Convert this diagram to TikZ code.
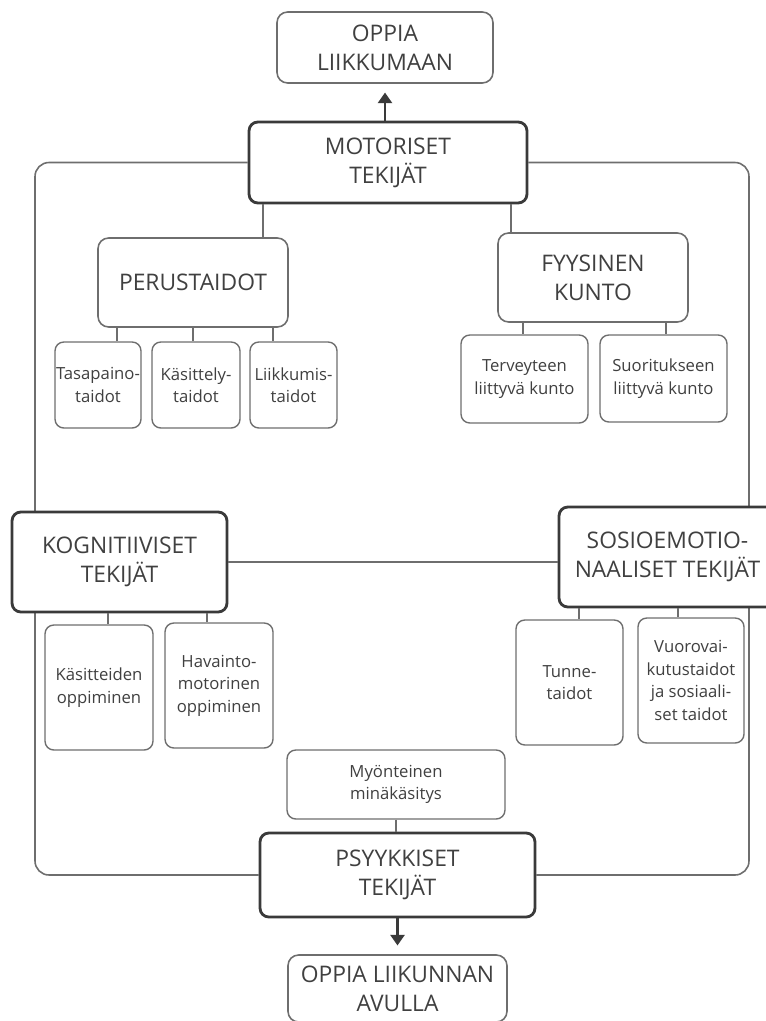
\documentclass[tikz,border=0pt]{standalone}
\usepackage{fontspec}
\setmainfont{Open Sans}
\usetikzlibrary{arrows.meta}
\usetikzlibrary{backgrounds}

\definecolor{ink}{HTML}{404040}
\definecolor{edge}{HTML}{6E6E6E}
\definecolor{heavy}{HTML}{3A3A3A}

\begin{document}
\begin{tikzpicture}[x=0.02cm, y=-0.02cm,
  main/.style = {draw=heavy, line width=1.6pt, rounded corners=5pt, fill=white, text=ink, align=center, inner sep=0pt, font=\fontsize{13}{16.5}\selectfont},
  group/.style = {draw=edge, line width=0.9pt, rounded corners=6pt, fill=white, text=ink, align=center, inner sep=0pt, font=\fontsize{13}{16.5}\selectfont},
  leaf/.style = {draw=edge, line width=0.8pt, rounded corners=5pt, fill=white, text=ink, align=center, inner sep=0pt, font=\fontsize{9.5}{12.8}\selectfont},
  link/.style = {draw=edge, line width=0.9pt},
  goal/.style = {draw=heavy, line width=1.3pt, -{Triangle[width=8pt,length=6pt]}}]
\useasboundingbox (0,0) rectangle (766,1021);

\node[group, minimum width=4.32cm, minimum height=1.42cm] (top) at (385,47.5) {OPPIA\\LIIKKUMAAN};
\node[main, minimum width=5.56cm, minimum height=1.62cm] (mot) at (388,162.5) {MOTORISET\\TEKIJÄT};

\node[group, minimum width=3.8cm, minimum height=1.78cm] (perus) at (193,282.5) {PERUSTAIDOT};
\node[group, minimum width=3.8cm, minimum height=1.78cm] (fyys) at (593,277.5) {FYYSINEN\\KUNTO};

\node[leaf, minimum width=1.72cm, minimum height=1.72cm] (tasa) at (98,385) {Tasapaino-\\taidot};
\node[leaf, minimum width=1.76cm, minimum height=1.72cm] (kasit) at (196,385) {Käsittely-\\taidot};
\node[leaf, minimum width=1.74cm, minimum height=1.72cm] (liik) at (293.5,385) {Liikkumis-\\taidot};
\node[leaf, minimum width=2.54cm, minimum height=1.76cm] (terv) at (524.5,379) {Terveyteen\\liittyvä kunto};
\node[leaf, minimum width=2.54cm, minimum height=1.74cm] (suor) at (663.5,378.5) {Suoritukseen\\liittyvä kunto};

\node[main, minimum width=4.3cm, minimum height=2cm] (kogn) at (119.5,562) {KOGNITIIVISET\\TEKIJÄT};
\node[main, minimum width=4.34cm, minimum height=2cm] (sosio) at (667.5,557) {SOSIOEMOTIO-\\NAALISET TEKIJÄT};

\node[leaf, minimum width=2.16cm, minimum height=2.5cm] (kasitt) at (99,687.5) {Käsitteiden\\oppiminen};
\node[leaf, minimum width=2.16cm, minimum height=2.5cm] (hav) at (219,685.5) {Havainto-\\motorinen\\oppiminen};
\node[leaf, minimum width=2.14cm, minimum height=2.5cm] (tunne) at (569.5,682.5) {Tunne-\\taidot};
\node[leaf, minimum width=2.12cm, minimum height=2.5cm] (vuoro) at (691,680.5) {Vuorovai-\\kutustaidot\\ja sosiaali-\\set taidot};

\node[leaf, minimum width=4.36cm, minimum height=1.38cm] (myon) at (396,784.5) {Myönteinen\\minäkäsitys};
\node[main, minimum width=5.5cm, minimum height=1.68cm] (psy) at (397.5,875) {PSYYKKISET\\TEKIJÄT};
\node[group, minimum width=4.38cm, minimum height=1.34cm] (bottom) at (397.5,988.5) {OPPIA LIIKUNNAN\\AVULLA};

% the big loop round the four groups
\begin{scope}[on background layer]
\draw[link, rounded corners=8pt] (mot.west) -| (35,500) |- (psy.west);
\draw[link, rounded corners=8pt] (mot.east) -| (749,500) |- (psy.east);
\end{scope}

\draw[link] (kogn.east) -- (kogn.east -| sosio.west);

\foreach \x/\a/\b in {263/mot/perus, 511/mot/fyys,
    117/perus/tasa, 193/perus/kasit, 273/perus/liik,
    523/fyys/terv, 666/fyys/suor,
    108/kogn/kasitt, 207/kogn/hav,
    579/sosio/tunne, 678/sosio/vuoro,
    396/myon/psy}
  \draw[link] (\x,0 |- \a.south) -- (\x,0 |- \b.north);

\draw[goal, shorten >=5pt] (mot.north -| top.south) -- (top.south);
\draw[goal, shorten >=5pt] (psy.south) -- (bottom.north);

\end{tikzpicture}
\end{document}
